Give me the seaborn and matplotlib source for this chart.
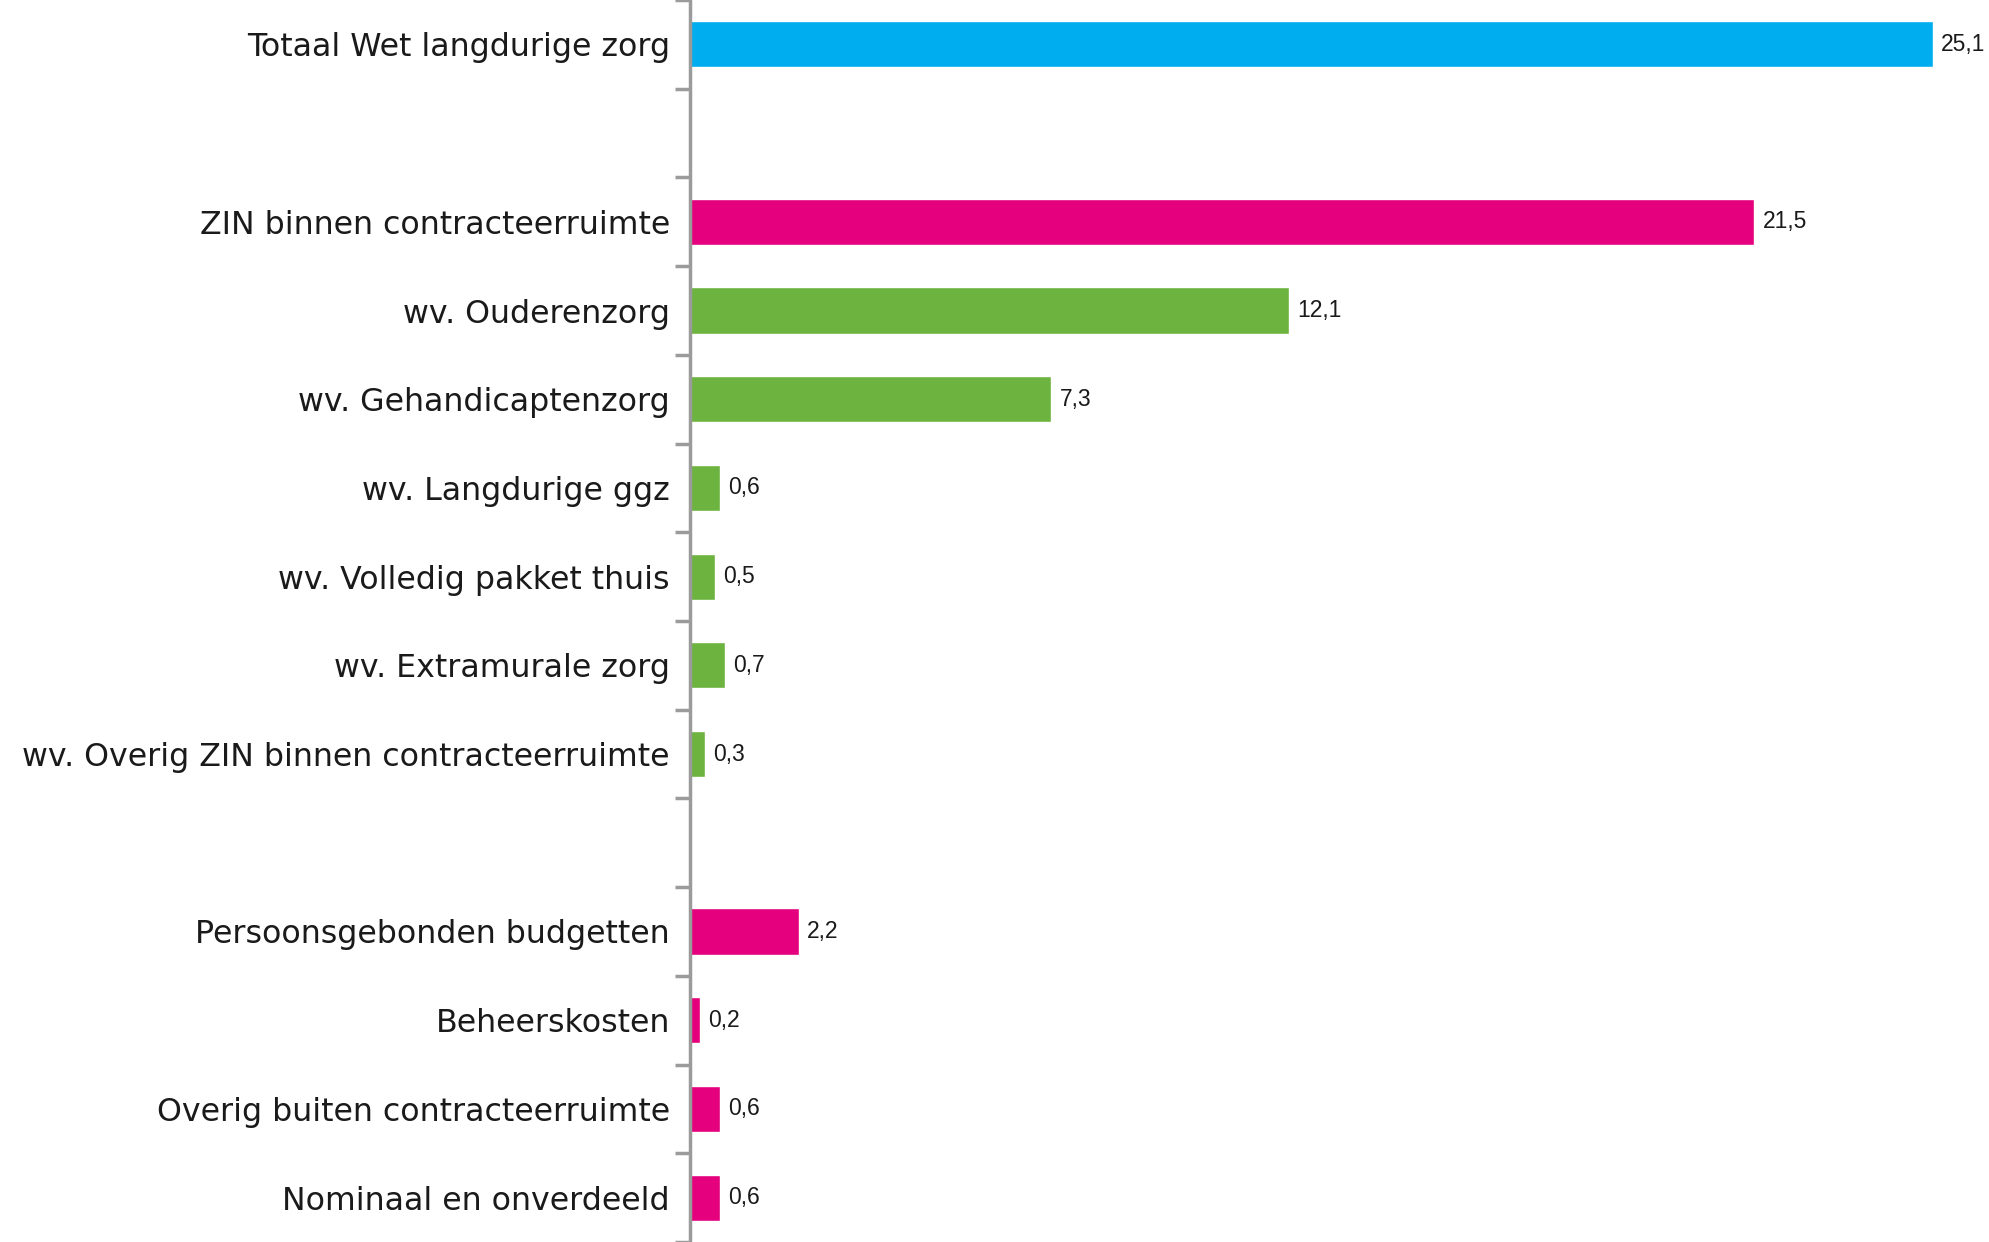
import matplotlib
matplotlib.use("Agg")
import matplotlib.pyplot as plt
import seaborn as sns
import pandas as pd
import numpy as np

categories = [
    "Totaal Wet langdurige zorg",
    " ",
    "ZIN binnen contracteerruimte",
    "wv. Ouderenzorg",
    "wv. Gehandicaptenzorg",
    "wv. Langdurige ggz",
    "wv. Volledig pakket thuis",
    "wv. Extramurale zorg",
    "wv. Overig ZIN binnen contracteerruimte",
    "  ",
    "Persoonsgebonden budgetten",
    "Beheerskosten",
    "Overig buiten contracteerruimte",
    "Nominaal en onverdeeld",
]
values = [25.1, np.nan, 21.5, 12.1, 7.3, 0.6, 0.5, 0.7, 0.3, np.nan, 2.2, 0.2, 0.6, 0.6]
groups = ["totaal", "leeg", "hoofd", "wv", "wv", "wv", "wv", "wv", "wv", "leeg",
          "hoofd", "hoofd", "hoofd", "hoofd"]
group_colors = {"totaal": "#00AEEF", "hoofd": "#E5007D", "wv": "#6DB33F", "leeg": "#FFFFFF"}

df = pd.DataFrame({"categorie": categories, "waarde": values, "groep": groups})

sns.set_theme(style="white")
plt.rcParams["font.family"] = ["DejaVu Sans"]

fig = plt.figure(figsize=(19.89, 12.42), dpi=100)
ax = fig.add_axes([690 / 1989, 0.0, 1 - 690 / 1989, 1.0])

sns.barplot(data=df, x="waarde", y="categorie", hue="groep", order=categories,
            palette=group_colors, dodge=False, legend=False, width=0.52,
            orient="h", ax=ax, saturation=1)

ax.set_xlim(0, 26.24)
ax.set_ylim(13.5, -0.5)
ax.set_xlabel("")
ax.set_ylabel("")
ax.set_xticks([])

for s in ["top", "right", "bottom"]:
    ax.spines[s].set_visible(False)
ax.spines["left"].set_color("#9B9B9B")
ax.spines["left"].set_linewidth(2.5)

ax.set_yticks(range(len(categories)))
ax.set_yticklabels(categories, fontsize=22.8, color="#1a1a1a", family="DejaVu Sans")
ax.tick_params(axis="y", which="major", length=0, pad=14.5)
ax.set_yticks(np.arange(-0.5, len(categories), 1.0), minor=True)
ax.tick_params(axis="y", which="minor", length=11, width=2.5, color="#9B9B9B",
               direction="out", left=True)

for container in ax.containers:
    labels = []
    for bar in container:
        w = bar.get_width()
        if np.isnan(w) or w == 0:
            labels.append("")
        else:
            labels.append(f"{w:.1f}".replace(".", ","))
    ax.bar_label(container, labels=labels, padding=6, fontsize=16.5, color="#1a1a1a",
                 family="Liberation Sans")

fig.savefig("out.png", dpi=100)
